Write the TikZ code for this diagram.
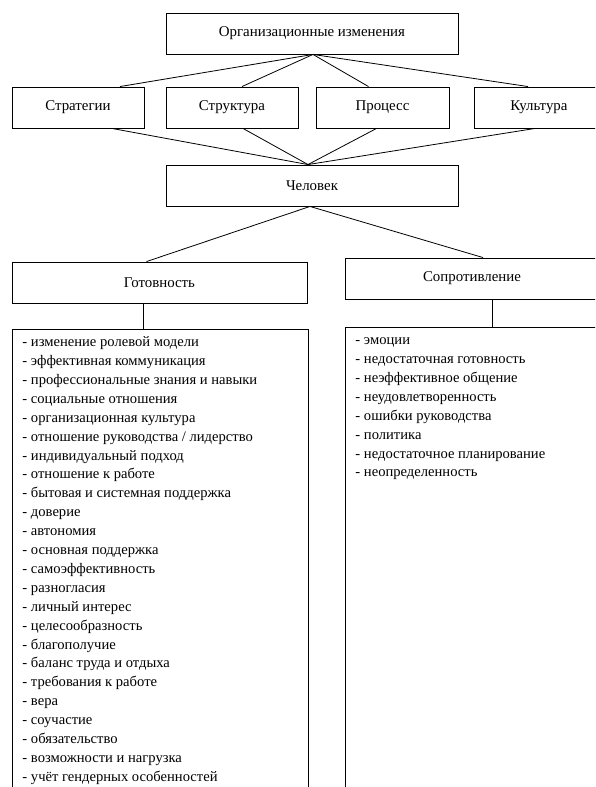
\documentclass[tikz,border=0pt]{standalone}
\usepackage{fontspec}
\setmainfont{Liberation Serif}
\usetikzlibrary{positioning}

\begin{document}
\begin{tikzpicture}[
    x=1pt, y=-1pt,
    box/.style={rectangle, draw, line width=0.9pt, minimum height=41pt,
                inner sep=0pt, font=\fontsize{14.9}{17}\selectfont},
    listbox/.style={rectangle, draw, line width=0.9pt, anchor=north west,
                    inner xsep=10pt, inner ysep=4pt,
                    font=\fontsize{14.6}{18.9}\selectfont},
    link/.style={line width=0.8pt}
  ]
    \useasboundingbox (0,0) rectangle (595,787);
    \clip (0,0) rectangle (595,787);

    % levels
    \node[box, minimum width=292pt] (org) at (312,33.5) {Организационные изменения};
    \node[box, minimum width=132pt] (strat) at (78,107.5) {Стратегии};
    \node[box, minimum width=132pt] (struct) at (232,107.5) {Структура};
    \node[box, minimum width=133pt] (proc) at (382.5,107.5) {Процесс};
    \node[box, minimum width=130pt] (cult) at (539,107.5) {Культура};
    \node[box, minimum width=292pt] (person) at (312,185.5) {Человек};
    \node[box, minimum width=295pt] (ready) at (159.5,282.5) {Готовность};
    \node[box, minimum width=254pt] (resist) at (472,278.5) {Сопротивление};

    % lists
    \node[listbox] (readyList) at (12,329) {\parbox[t][480pt][t]{276pt}{\raggedright\strut
      - изменение ролевой модели\\
      - эффективная коммуникация\\
      - профессиональные знания и навыки\\
      - социальные отношения\\
      - организационная культура\\
      - отношение руководства / лидерство\\
      - индивидуальный подход\\
      - отношение к работе\\
      - бытовая и системная поддержка\\
      - доверие\\
      - автономия\\
      - основная поддержка\\
      - самоэффективность\\
      - разногласия\\
      - личный интерес\\
      - целесообразность\\
      - благополучие\\
      - баланс труда и отдыха\\
      - требования к работе\\
      - вера\\
      - соучастие\\
      - обязательство\\
      - возможности и нагрузка\\
      - учёт гендерных особенностей}};
    \node[listbox] (resistList) at (345,327) {\parbox[t][480pt][t]{234pt}{\raggedright\strut
      - эмоции\\
      - недостаточная готовность\\
      - неэффективное общение\\
      - неудовлетворенность\\
      - ошибки руководства\\
      - политика\\
      - недостаточное планирование\\
      - неопределенность}};

    % connectors
    \draw[link] ([xshift=1pt]org.south) -- ([xshift=42pt]strat.north);
    \draw[link] ([xshift=1pt]org.south) -- ([xshift=10pt]struct.north);
    \draw[link] ([xshift=1pt]org.south) -- ([xshift=-14pt]proc.north);
    \draw[link] ([xshift=1pt]org.south) -- ([xshift=-11pt]cult.north);
    \draw[link] ([xshift=34pt]strat.south) -- ([xshift=-4pt]person.north);
    \draw[link] ([xshift=11pt]struct.south) -- ([xshift=-4pt]person.north);
    \draw[link] ([xshift=-6pt]proc.south) -- ([xshift=-4pt]person.north);
    \draw[link] ([xshift=-4pt]cult.south) -- ([xshift=-4pt]person.north);
    \draw[link] ([xshift=-2pt]person.south) -- ([xshift=-13pt]ready.north);
    \draw[link] ([xshift=-2pt]person.south) -- ([xshift=11pt]resist.north);
    \draw[link] ([xshift=-16pt]ready.south) -- ([xshift=-16pt]ready.south |- readyList.north);
    \draw[link] ([xshift=20pt]resist.south) -- ([xshift=20pt]resist.south |- resistList.north);
\end{tikzpicture}
\end{document}
